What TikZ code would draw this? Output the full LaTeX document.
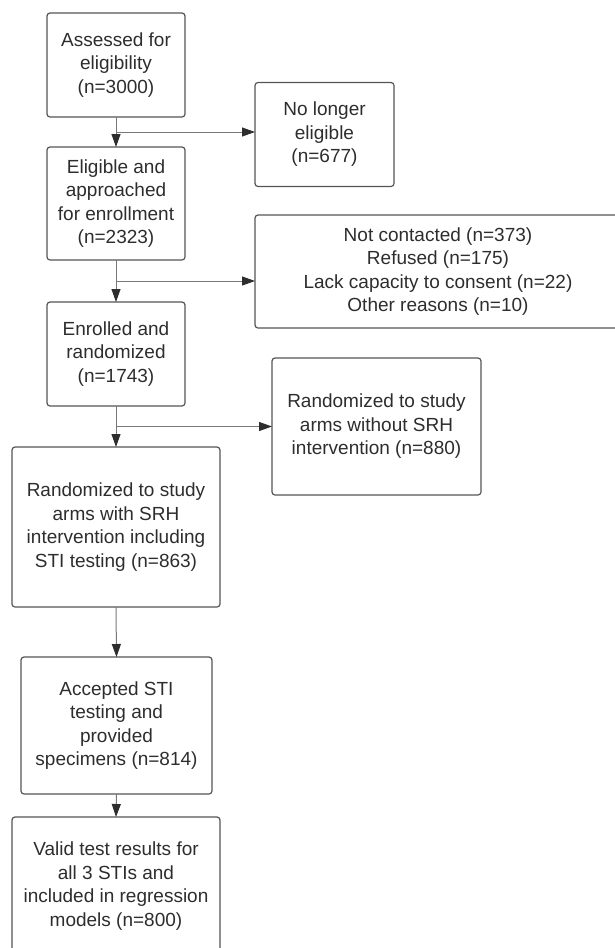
\documentclass[tikz,border=0pt]{standalone}
\usepackage{fontspec}
\setmainfont{Liberation Sans}
\usetikzlibrary{calc,positioning}
\usetikzlibrary{arrows.meta}
\tikzset{>={Triangle[width=9pt,length=13pt,color=box_text]}}
\definecolor{box_line}{RGB}{85, 85, 85}
\definecolor{arrow_line}{RGB}{120, 120, 120}
\definecolor{box_text}{RGB}{45, 45, 45}

\begin{document}
\begin{tikzpicture}[
		x=1pt, y=-1pt,
		every node/.style={font=\fontsize{19}{23.5}\selectfont, text=box_text},
		flowbox/.style={draw=box_line, line width=1.2pt, rounded corners=3pt,
				inner sep=0pt, outer sep=0pt, align=center},
		flowarrow/.style={draw=arrow_line, line width=1pt, ->},
	]
	% page frame, boxes on the right and at the bottom run off it
	\useasboundingbox (0,0) rectangle (615,948);
	\clip (0,0) rectangle (615,948);

	% main column
	\node[flowbox, minimum width=138pt, minimum height=104pt] (assessed) at (116,65)
	{Assessed for\\eligibility\\(n=3000)};
	\node[flowbox, minimum width=138pt, minimum height=113pt] (eligible) at (116,203.5)
	{Eligible and\\approached\\for enrollment\\(n=2323)};
	\node[flowbox, minimum width=138pt, minimum height=104pt] (enrolled) at (116,354)
	{Enrolled and\\randomized\\(n=1743)};
	\node[flowbox, minimum width=208pt, minimum height=160pt] (with-srh) at (116,527)
	{Randomized to study\\arms with SRH\\intervention including\\STI testing (n=863)};
	\node[flowbox, minimum width=191pt, minimum height=137pt] (accepted) at (116.5,725.5)
	{Accepted STI\\testing and\\provided\\specimens (n=814)};
	\node[flowbox, minimum width=208pt, minimum height=138pt] (valid-results) at (116,886)
	{Valid test results for\\all 3 STIs and\\included in regression\\models (n=800)};

	% side boxes
	\node[flowbox, minimum width=139pt, minimum height=104pt] (no-longer) at (324.5,134.5)
	{No longer\\eligible\\(n=677)};
	\node[flowbox, minimum width=366pt, minimum height=113pt] (not-contacted) at (438,271.5)
	{Not contacted (n=373)\\Refused (n=175)\\Lack capacity to consent (n=22)\\Other reasons (n=10)};
	\node[flowbox, minimum width=209pt, minimum height=137pt] (without-srh) at (376.5,426.5)
	{Randomized to study\\arms without SRH\\intervention (n=880)};

	\foreach \a/\b in {assessed/eligible, eligible/enrolled, enrolled/with-srh,
			with-srh/accepted, accepted/valid-results}{
			\draw[flowarrow] (\a.south) -- (\b.north);
		}

	\coordinate (split1) at ($(assessed.south)!.5!(eligible.north)$);
	\coordinate (split2) at ($(eligible.south)!.5!(enrolled.north)$);
	\coordinate (split3) at ($(enrolled.south)!.5!(with-srh.north)$);

	\draw[flowarrow] (split1) -- (split1 -| no-longer.west);
	\draw[flowarrow] (split2) -- (split2 -| not-contacted.west);
	\draw[flowarrow] (split3) -- (split3 -| without-srh.west);

\end{tikzpicture}
\end{document}
